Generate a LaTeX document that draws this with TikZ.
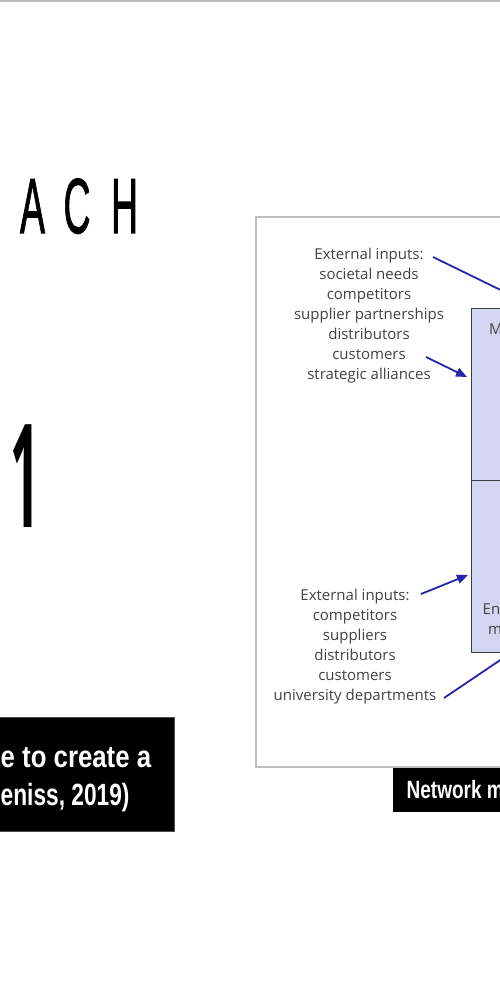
\documentclass[tikz,border=0pt]{standalone}
\usepackage{fontspec}
\setmainfont{Open Sans}
\newfontfamily\condf{Liberation Sans}
\newfontfamily\condfb[FakeBold=1.6]{Liberation Sans}
\usetikzlibrary{arrows.meta}
\definecolor{figgray}{RGB}{66,66,66}
\definecolor{arrowblue}{RGB}{38,38,172}
\definecolor{boxblue}{RGB}{211,214,241}
\definecolor{boxedge}{RGB}{60,60,70}
\definecolor{framegray}{RGB}{192,192,192}
\definecolor{topgray}{RGB}{190,190,190}
\begin{document}
\begin{tikzpicture}[x=1pt,y=-1pt,
  lbl/.style={inner sep=0pt, text=figgray, font=\fontsize{15}{20}\selectfont, align=center},
  boxlbl/.style={inner sep=0pt, text=figgray, font=\fontsize{15}{20}\selectfont, anchor=base west},
  bigletter/.style={inner sep=0pt, anchor=base, font=\condfb\fontsize{78}{78}\selectfont},
  captxt/.style={inner sep=0pt, anchor=base west, text=white, font=\condf\bfseries\fontsize{30.7}{30.7}\selectfont},
  bluearrow/.style={draw=arrowblue, line width=1.8pt, -{Triangle[length=11pt,width=9pt]}},
  blueline/.style={draw=arrowblue, line width=1.8pt},
]
\fill[white] (0,0) rectangle (500,1000);
\useasboundingbox (0,0) rectangle (500,1000);
\fill[topgray] (0,0) rectangle (500,2);

% title letters
\node[bigletter] (lA) at (32.5,233) {\scalebox{0.48}[1]{A}};
\node[bigletter] (lC) at (77,233) {\scalebox{0.48}[1]{C}};
\node[bigletter] (lH) at (124.5,233) {\scalebox{0.48}[1]{H}};

% big digit
\node[inner sep=0pt, anchor=base, font=\bfseries\fontsize{144}{144}\selectfont] (one) at (25,527) {\scalebox{0.36}[1]{1}};

% black caption box on the left
\node[fill=black, draw=black!70, line width=0.6pt, anchor=north west, minimum width=176pt, minimum height=114pt, inner sep=0pt] (capbox) at (-2,717) {};
\node[captxt] (cap1) at (0.5,767) {\scalebox{0.84}[1]{e to create a}};
\node[captxt] (cap2) at (0.5,805) {\scalebox{0.74}[1]{eniss, 2019)}};

% figure frame
\node[draw=framegray, line width=2pt, fill=white, anchor=north west, minimum width=320pt, minimum height=550pt, inner sep=0pt] (frame) at (255,216) {};

% blue box
\node[draw=boxedge, fill=boxblue, line width=1.2pt, anchor=north west, minimum width=120pt, minimum height=344pt, inner sep=0pt] (bluebox) at (471,308) {};
\draw[boxedge, line width=1.2pt] (bluebox.west) -- (bluebox.east);
\node[boxlbl] (mtop) at (489,334) {M};
\node[boxlbl] (en) at (482.5,614) {En};
\node[boxlbl] (mbot) at (488,634) {m};

% text blocks
\node[lbl, anchor=north] (ext1) at (369,248) {External inputs:\\societal needs\\competitors\\supplier partnerships\\distributors\\customers\\strategic alliances};
\node[lbl, anchor=north] (ext2) at (355,589) {External inputs:\\competitors\\suppliers\\distributors\\customers\\university departments};

% arrows
\coordinate (a1s) at (433,257);
\coordinate (a1e) at (560,319);
\coordinate (a2s) at (426,357);
\coordinate (a2e) at (467,377);
\coordinate (a3s) at (421,594);
\coordinate (a3e) at (468,575);
\coordinate (a4s) at (444,698);
\coordinate (a4e) at (530,640);
\draw[blueline] (a1s) -- (a1e);
\draw[bluearrow] (a2s) -- (a2e);
\draw[bluearrow] (a3s) -- (a3e);
\draw[blueline] (a4s) -- (a4e);

% caption box under the figure
\node[fill=black, anchor=north west, minimum width=150pt, minimum height=44pt, inner sep=0pt] (netbox) at (393,768) {};
\node[inner sep=0pt, anchor=base west, text=white, font=\condf\bfseries\fontsize{25}{25}\selectfont] (nettxt) at (406.5,798) {\scalebox{0.76}[1]{Network m}};
\end{tikzpicture}
\end{document}
